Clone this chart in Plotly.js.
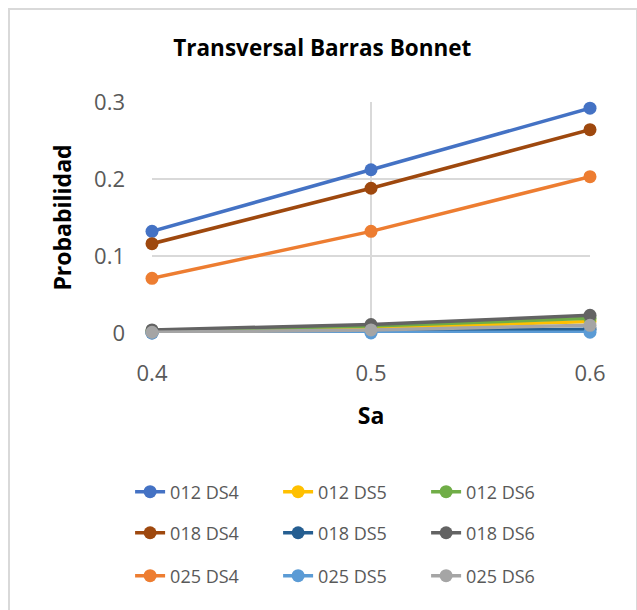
<!DOCTYPE html>
<html>
<head>
<meta charset="utf-8">
<script src="https://cdn.plot.ly/plotly-3.0.1.min.js"></script>
<style>
  html, body { margin: 0; padding: 0; background: #fff; }
  #wrap { position: relative; width: 637px; height: 610px; }
  #chart { width: 637px; height: 610px; }
  #frame { position: absolute; left: 8px; top: 8px; width: 626px; height: 620px;
           border: 2px solid #d9d9d9; pointer-events: none; }
</style>
</head>
<body>
<div id="wrap">
  <div id="chart"></div>
  <div id="frame"></div>
</div>
<script>
const xValues = [0.4, 0.5, 0.6];
const seriesNames = ["012 DS4", "012 DS5", "012 DS6",
                     "018 DS4", "018 DS5", "018 DS6",
                     "025 DS4", "025 DS5", "025 DS6"];
const s012DS4 = [0.132, 0.212, 0.292];
const s012DS5 = [0.001, 0.006, 0.015];
const s012DS6 = [0.003, 0.009, 0.019];
const s018DS4 = [0.116, 0.188, 0.264];
const s018DS5 = [0.000, 0.002, 0.005];
const s018DS6 = [0.004, 0.011, 0.023];
const s025DS4 = [0.071, 0.132, 0.203];
const s025DS5 = [0.000, 0.000, 0.001];
const s025DS6 = [0.001, 0.004, 0.010];
const seriesValues = [s012DS4, s012DS5, s012DS6, s018DS4, s018DS5, s018DS6, s025DS4, s025DS5, s025DS6];
const colors = ["#4472C4", "#FFC000", "#70AD47",
                "#9E480E", "#255E91", "#636363",
                "#ED7D31", "#5B9BD5", "#A5A5A5"];
const legendIds = ["legend", "legend", "legend", "legend2", "legend2", "legend2", "legend3", "legend3", "legend3"];

const traces = seriesNames.map((name, i) => ({
  x: xValues, y: seriesValues[i], name: name,
  type: "scatter", mode: "lines+markers",
  line: { color: colors[i], width: 3.5 },
  marker: { color: colors[i], size: 13 },
  cliponaxis: false,
  legend: legendIds[i]
}));

const font = "'Open Sans', sans-serif";
const legendBase = {
  orientation: "h", xanchor: "left", yanchor: "middle", x: -0.05,
  entrywidth: 103, entrywidthmode: "pixels",
  font: { family: font, size: 18, color: "#595959" },
  bgcolor: "rgba(0,0,0,0)", itemwidth: 30, tracegroupgap: 0
};

const layout = {
  width: 637, height: 610,
  margin: { l: 152, r: 47, t: 102, b: 277 },
  paper_bgcolor: "rgba(0,0,0,0)", plot_bgcolor: "#fff",
  title: { text: "<b>Transversal Barras Bonnet</b>", x: 0.506, xanchor: "center", y: 0.921, yanchor: "middle",
           font: { family: font, size: 22.5, color: "#000" } },
  xaxis: {
    range: [0.4, 0.6], tickvals: [0.4, 0.5, 0.6], ticktext: ["0.4", "0.5", "0.6"],
    showgrid: true, gridcolor: "#d9d9d9", gridwidth: 1.5, zeroline: false,
    showline: false, ticks: "", ticklabelstandoff: 25,
    tickfont: { family: font, size: 22, color: "#595959" },
    title: { text: "<b>Sa</b>", font: { family: font, size: 23, color: "#000" }, standoff: 21 }
  },
  yaxis: {
    range: [0, 0.3], tickvals: [0, 0.1, 0.2, 0.3], ticktext: ["0", "0.1", "0.2", "0.3"],
    showgrid: true, gridcolor: "#d9d9d9", gridwidth: 1.5, zeroline: false,
    showline: false, ticks: "", ticklabelstandoff: 26,
    tickfont: { family: font, size: 22, color: "#595959" },
    title: { text: "<b>Probabilidad</b>", font: { family: font, size: 23, color: "#000" }, standoff: 16 }
  },
  showlegend: true,
  legend: Object.assign({}, legendBase, { y: -0.688 }),
  legend2: Object.assign({}, legendBase, { y: -0.866 }),
  legend3: Object.assign({}, legendBase, { y: -1.052 })
};

Plotly.newPlot("chart", traces, layout, { displayModeBar: false, staticPlot: true });
</script>
</body>
</html>
